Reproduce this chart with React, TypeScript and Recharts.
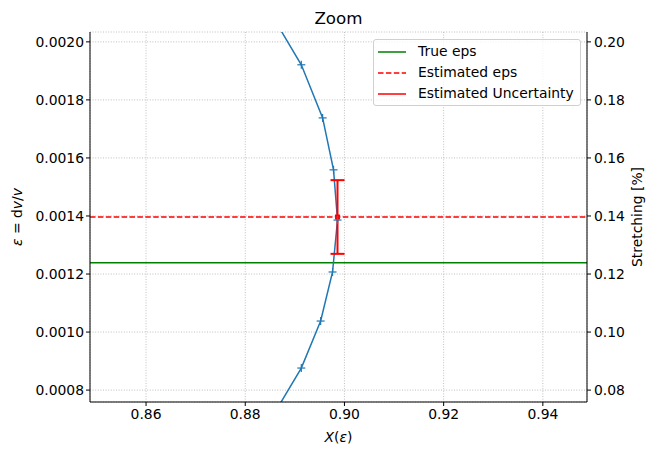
import React from 'react'
import {
  ComposedChart,
  Line,
  Scatter,
  ErrorBar,
  XAxis,
  YAxis,
  CartesianGrid,
  ReferenceLine,
  Legend,
} from 'recharts'

// X(eps) curve (first and last points lie outside the zoom window)
const curveX = [0.8848, 0.8913, 0.8956, 0.8978, 0.8986, 0.8976, 0.8952, 0.8913, 0.8858]
const curveEps = [0.002108, 0.001921, 0.001738, 0.001559, 0.001386, 0.001207, 0.001038, 0.000876, 0.000718]

const trueEps = 0.001239
const estEps = 0.0013965
const estX = 0.8986
const estErr = 0.000127

const xTicks = [0.86, 0.88, 0.9, 0.92, 0.94]
const epsTicks = [0.0008, 0.001, 0.0012, 0.0014, 0.0016, 0.0018, 0.002]
const stretchTicks = [0.08, 0.1, 0.12, 0.14, 0.16, 0.18, 0.2]

const xDomain = [0.8487, 0.9489]
const epsDomain = [0.000759, 0.002034]
const stretchDomain = [epsDomain[0] * 100, epsDomain[1] * 100]

const curveData = curveX.map((x, i) => ({ x, eps: curveEps[i] }))
const estData = [{ x: estX, eps: estEps, err: estErr }]

const FONT = 'DejaVu Sans, sans-serif'
const BLUE = '#1f77b4'

const tickStyle = { fontSize: 13.9, fill: '#000', fontFamily: FONT }

function PlusDot(props: any) {
  const { cx, cy, payload, index } = props
  const inside =
    payload.x >= xDomain[0] && payload.x <= xDomain[1] &&
    payload.eps >= epsDomain[0] && payload.eps <= epsDomain[1]
  if (!inside || cx == null || cy == null) return <g key={'d' + index} />
  return (
    <g key={'d' + index}>
      <line x1={cx - 4} x2={cx + 4} y1={cy} y2={cy} stroke={BLUE} strokeWidth={1.2} />
      <line x1={cx} x2={cx} y1={cy - 4} y2={cy + 4} stroke={BLUE} strokeWidth={1.2} />
    </g>
  )
}

function renderLegend() {
  const rows = [
    { name: 'True eps', color: '#008000', dash: undefined },
    { name: 'Estimated eps', color: '#ff0000', dash: '5.5 2.4' },
    { name: 'Estimated Uncertainty', color: '#ff0000', dash: undefined },
  ]
  return (
    <div
      style={{
        border: '1px solid #d0d0d0',
        borderRadius: 3,
        background: 'rgba(255,255,255,0.8)',
        padding: '1px 6px 1px 4px',
        fontFamily: FONT,
        fontSize: 13.9,
        lineHeight: '21px',
        boxSizing: 'border-box',
      }}
    >
      {rows.map((r) => (
        <div key={r.name} style={{ display: 'flex', alignItems: 'center' }}>
          <svg width={29} height={10} style={{ marginRight: 11 }}>
            <line x1={0} x2={28} y1={5} y2={5} stroke={r.color} strokeWidth={1.5} strokeDasharray={r.dash} />
          </svg>
          <span>{r.name}</span>
        </div>
      ))}
    </div>
  )
}

export default function App() {
  return (
    <div style={{ position: 'absolute', left: 0, top: 0, width: 655, height: 457, background: '#fff' }}>
      <ComposedChart width={655} height={457} margin={{ top: 32, right: 0, bottom: 0, left: 0 }}>
        <CartesianGrid stroke="#b0b0b0" strokeDasharray="1 1.6" strokeWidth={0.8} yAxisId="left" />
        <XAxis
          type="number"
          dataKey="x"
          domain={xDomain}
          ticks={xTicks}
          allowDataOverflow
          height={55}
          tick={tickStyle}
          tickFormatter={(v: number) => v.toFixed(2)}
          tickSize={4}
          tickMargin={3}
          stroke="#000"
          axisLine={{ stroke: '#000', strokeWidth: 1 }}
          tickLine={{ stroke: '#000' }}
        />
        <XAxis
          xAxisId="top"
          orientation="top"
          type="number"
          domain={xDomain}
          allowDataOverflow
          height={0}
          tick={false}
          tickLine={false}
          axisLine={{ stroke: '#000', strokeWidth: 1 }}
        />
        <YAxis
          yAxisId="left"
          type="number"
          domain={epsDomain}
          ticks={epsTicks}
          allowDataOverflow
          width={90}
          tick={tickStyle}
          tickFormatter={(v: number) => v.toFixed(4)}
          tickSize={4}
          tickMargin={2}
          axisLine={{ stroke: '#000', strokeWidth: 1 }}
          tickLine={{ stroke: '#000' }}
        />
        <YAxis
          yAxisId="right"
          orientation="right"
          type="number"
          domain={stretchDomain}
          ticks={stretchTicks}
          allowDataOverflow
          width={68}
          tick={tickStyle}
          tickFormatter={(v: number) => v.toFixed(2)}
          tickSize={4}
          tickMargin={3}
          axisLine={{ stroke: '#000', strokeWidth: 1 }}
          tickLine={{ stroke: '#000' }}
        />
        <ReferenceLine yAxisId="left" y={trueEps} stroke="#008000" strokeWidth={1.5} />
        <ReferenceLine yAxisId="left" y={estEps} stroke="#ff0000" strokeWidth={1.5} strokeDasharray="5.5 2.4" />
        <Line
          yAxisId="left"
          data={curveData}
          dataKey="eps"
          type="linear"
          stroke={BLUE}
          strokeWidth={1.5}
          dot={PlusDot}
          activeDot={false}
          isAnimationActive={false}
        />
        <Scatter
          yAxisId="left"
          data={estData}
          dataKey="eps"
          fill="#ff0000"
          shape={(p: any) => <rect x={p.cx - 2.5} y={p.cy - 2.5} width={5} height={5} fill="#ff0000" />}
          isAnimationActive={false}
        >
          <ErrorBar dataKey="err" direction="y" width={7} stroke="#ff0000" strokeWidth={2} isAnimationActive={false} />
        </Scatter>
        <Legend
          layout="horizontal"
          verticalAlign="middle"
          align="center"
          content={renderLegend}
          wrapperStyle={{ position: 'absolute', left: 373, top: 39, width: 'auto', height: 'auto' }}
        />
        <text x={338.5} y={24} textAnchor="middle" fontFamily={FONT} fontSize={16.7} fill="#000">
          Zoom
        </text>
        <text x={338.5} y={442} textAnchor="middle" fontFamily={FONT} fontSize={13.9} fill="#000">
          <tspan fontStyle="italic">X</tspan>(<tspan fontStyle="italic">ε</tspan>)
        </text>
        <text
          x={22}
          y={217}
          textAnchor="middle"
          fontFamily={FONT}
          fontSize={13.9}
          fill="#000"
          transform="rotate(-90 22 217)"
        >
          <tspan fontStyle="italic">ε</tspan> = d<tspan fontStyle="italic">v</tspan>/<tspan fontStyle="italic">v</tspan>
        </text>
        <text
          x={642}
          y={217}
          textAnchor="middle"
          fontFamily={FONT}
          fontSize={13.9}
          fill="#000"
          transform="rotate(-90 642 217)"
        >
          Stretching [%]
        </text>
      </ComposedChart>
    </div>
  )
}
